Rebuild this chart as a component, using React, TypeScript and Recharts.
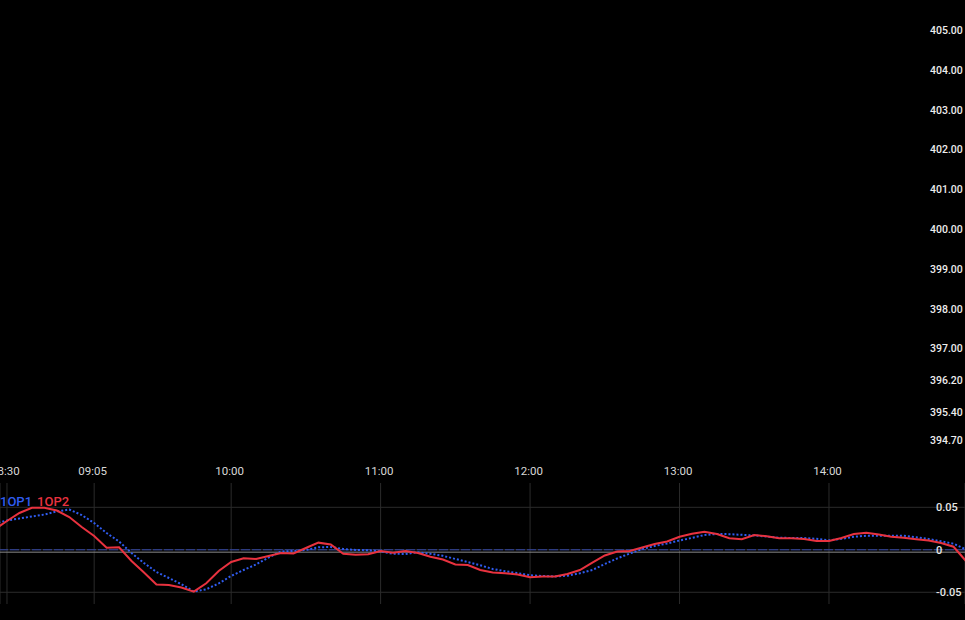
import React from 'react';
import { LineChart, Line, XAxis, YAxis, CartesianGrid, ReferenceLine, Legend } from 'recharts';

// 5-minute bars
const times = [
  '08:25', '08:30', '08:35', '08:40', '08:45', '08:50', '08:55',
  '09:00', '09:05', '09:10', '09:15', '09:20', '09:25', '09:30', '09:35', '09:40', '09:45', '09:50', '09:55',
  '10:00', '10:05', '10:10', '10:15', '10:20', '10:25', '10:30', '10:35', '10:40', '10:45', '10:50', '10:55',
  '11:00', '11:05', '11:10', '11:15', '11:20', '11:25', '11:30', '11:35', '11:40', '11:45', '11:50', '11:55',
  '12:00', '12:05', '12:10', '12:15', '12:20', '12:25', '12:30', '12:35', '12:40', '12:45', '12:50', '12:55',
  '13:00', '13:05', '13:10', '13:15', '13:20', '13:25', '13:30', '13:35', '13:40', '13:45', '13:50', '13:55',
  '14:00', '14:05', '14:10', '14:15', '14:20', '14:25', '14:30', '14:35', '14:40', '14:45', '14:50', '14:55',
];

const op1 = [
  0.0309, 0.0345, 0.0368, 0.0392, 0.0415, 0.0451, 0.0474,
  0.0409, 0.0315, 0.0198, 0.0098, -0.0038, -0.0155, -0.0261, -0.0332, -0.0405, -0.0491, -0.0465, -0.0396,
  -0.0308, -0.0238, -0.0173, -0.0091, -0.002, -0.0014, -0.0002, 0.0029, 0.0033, 0.0009, -0.0002, -0.0005,
  -0.002, -0.0047, -0.0049, -0.0029, -0.0047, -0.0071, -0.0108, -0.0144, -0.0182, -0.0226, -0.0252, -0.0275,
  -0.03, -0.0308, -0.0314, -0.0305, -0.0276, -0.0238, -0.0167, -0.0102, -0.0044, 0.0009, 0.0045, 0.0074,
  0.0109, 0.014, 0.0174, 0.0186, 0.0184, 0.0176, 0.0169, 0.0156, 0.0142, 0.0139, 0.0139, 0.0129,
  0.0112, 0.0129, 0.0153, 0.0166, 0.0166, 0.0166, 0.0166, 0.0148, 0.0127, 0.01, 0.0072, 0.0004,
];

const op2 = [
  0.0239, 0.0339, 0.0433, 0.0495, 0.0495, 0.0462, 0.0386,
  0.0268, 0.0162, 0.0025, 0.0029, -0.0132, -0.0267, -0.0408, -0.0414, -0.0444, -0.0493, -0.0394, -0.0249,
  -0.0144, -0.01, -0.0108, -0.0073, -0.0038, -0.0044, 0.0021, 0.0084, 0.0062, -0.0046, -0.0058, -0.0053,
  -0.0014, -0.0034, -0.0014, -0.0038, -0.0081, -0.0114, -0.0173, -0.0179, -0.0238, -0.0267, -0.0276, -0.0291,
  -0.0324, -0.0314, -0.0315, -0.0285, -0.0238, -0.0152, -0.0067, -0.002, -0.0014, 0.0027, 0.0068, 0.0098,
  0.0154, 0.0188, 0.0213, 0.0186, 0.0135, 0.0124, 0.0174, 0.0159, 0.0135, 0.0135, 0.0127, 0.0104,
  0.0104, 0.0139, 0.0186, 0.0201, 0.018, 0.0154, 0.0142, 0.0124, 0.0109, 0.008, 0.0036, -0.0132,
];

const timeTicks = ['08:30', '09:05', '10:00', '11:00', '12:00', '13:00', '14:00'];
const priceTicks = [394.7, 395.4, 396.2, 397, 398, 399, 400, 401, 402, 403, 404, 405];
const oscTicks = [-0.05, 0, 0.05];

const toMin = (t: string) => {
  const [h, m] = t.split(':').map(Number);
  return h * 60 + m;
};
const fmtMin = (v: number) => {
  const h = Math.floor(v / 60);
  const m = v % 60;
  return `${String(h).padStart(2, '0')}:${String(m).padStart(2, '0')}`;
};

const rows = times.map((t, i) => ({ t: toMin(t), op1: op1[i], op2: op2[i] }));

const W = 965;
const FONT = 'Roboto, "Liberation Sans", sans-serif';
const PRICE_AXIS_W = 35;
const OSC_AXIS_W = 29;

// mirrored right axis hands us the plot's right edge, labels are left-aligned inside the axis strip
const PriceTick = (props: any) => {
  const { x, y, payload } = props;
  return (
    <text x={x - PRICE_AXIS_W} y={y} dy={4} textAnchor="start" fill="#ededed" fontSize={10.5} fontWeight={500} fontFamily={FONT}>
      {Number(payload.value).toFixed(2)}
    </text>
  );
};

const OscTick = (props: any) => {
  const { x, y, payload } = props;
  const v = Number(payload.value);
  return (
    <text x={x - OSC_AXIS_W} y={y} dy={4} textAnchor="start" fill="#e6e6e6" fontSize={11} fontWeight={500} fontFamily={FONT}>
      {v === 0 ? '0' : v.toFixed(2)}
    </text>
  );
};

const TimeTick = (props: any) => {
  const { x, payload } = props;
  return (
    <text x={x - 1.5} y={20} textAnchor="middle" fill="#d8d8d8" fontSize={11.5} fontFamily={FONT}>
      {fmtMin(payload.value)}
    </text>
  );
};

const LegendContent = (props: any) => (
  <div style={{ fontFamily: FONT, fontSize: 13, fontWeight: 500, lineHeight: '15px', whiteSpace: 'nowrap' }}>
    {(props.payload || []).map((e: any) => (
      <span key={e.value} style={{ color: e.color, marginRight: 5 }}>{e.value}</span>
    ))}
  </div>
);

export default function App() {
  return (
    <div style={{ position: 'fixed', left: 0, top: 0, width: W, height: 620, background: '#000', overflow: 'hidden' }}>
      <div style={{ position: 'absolute', left: 0, top: 0 }}>
        <LineChart width={W} height={455} data={rows} margin={{ top: 30, right: 0, bottom: 15, left: 0 }}>
          <XAxis dataKey="t" type="number" hide domain={[507.2, 894.6]} allowDataOverflow />
          <YAxis
            orientation="right"
            mirror
            width={PRICE_AXIS_W}
            domain={[394.7, 405]}
            ticks={priceTicks}
            allowDataOverflow
            axisLine={false}
            tickLine={false}
            tickSize={0}
            tickMargin={0}
            tick={<PriceTick />}
            interval={0}
          />
        </LineChart>
      </div>
      <div style={{ position: 'absolute', left: 0, top: 455 }}>
        <LineChart width={W} height={165} data={rows} margin={{ top: 0, right: 0, bottom: 16, left: 0 }}>
          <CartesianGrid stroke="#2b2b2b" horizontal={false} />
          <XAxis
            dataKey="t"
            type="number"
            orientation="top"
            height={28}
            domain={[507.2, 894.6]}
            allowDataOverflow
            ticks={timeTicks.map(toMin)}
            interval={0}
            axisLine={false}
            tickLine={false}
            tick={<TimeTick />}
          />
          <YAxis
            orientation="right"
            mirror
            width={OSC_AXIS_W}
            domain={[-0.0638, 0.0786]}
            ticks={oscTicks}
            allowDataOverflow
            axisLine={false}
            tickLine={false}
            tickSize={0}
            tickMargin={0}
            tick={<OscTick />}
            interval={0}
          />
          {oscTicks.map((v) => (
            <ReferenceLine key={v} y={v} stroke="#2b2b2b" strokeWidth={1} />
          ))}
          <ReferenceLine y={-0.0028} stroke="#8a8a8a" strokeWidth={1} />
          <ReferenceLine y={0} stroke="#3447a8" strokeWidth={1} strokeDasharray="9 2" />
          <Line
            dataKey="op1"
            name="1OP1"
            type="linear"
            stroke="#2f5cf0"
            strokeWidth={2}
            strokeDasharray="2 2"
            dot={false}
            isAnimationActive={false}
          />
          <Line
            dataKey="op2"
            name="1OP2"
            type="linear"
            stroke="#e8323f"
            strokeWidth={2}
            dot={false}
            isAnimationActive={false}
          />
          <Legend
            layout="horizontal"
            verticalAlign="middle"
            align="center"
            content={<LegendContent />}
            wrapperStyle={{ top: 39, left: 0, width: 'auto', height: 'auto' }}
          />
        </LineChart>
      </div>
    </div>
  );
}
